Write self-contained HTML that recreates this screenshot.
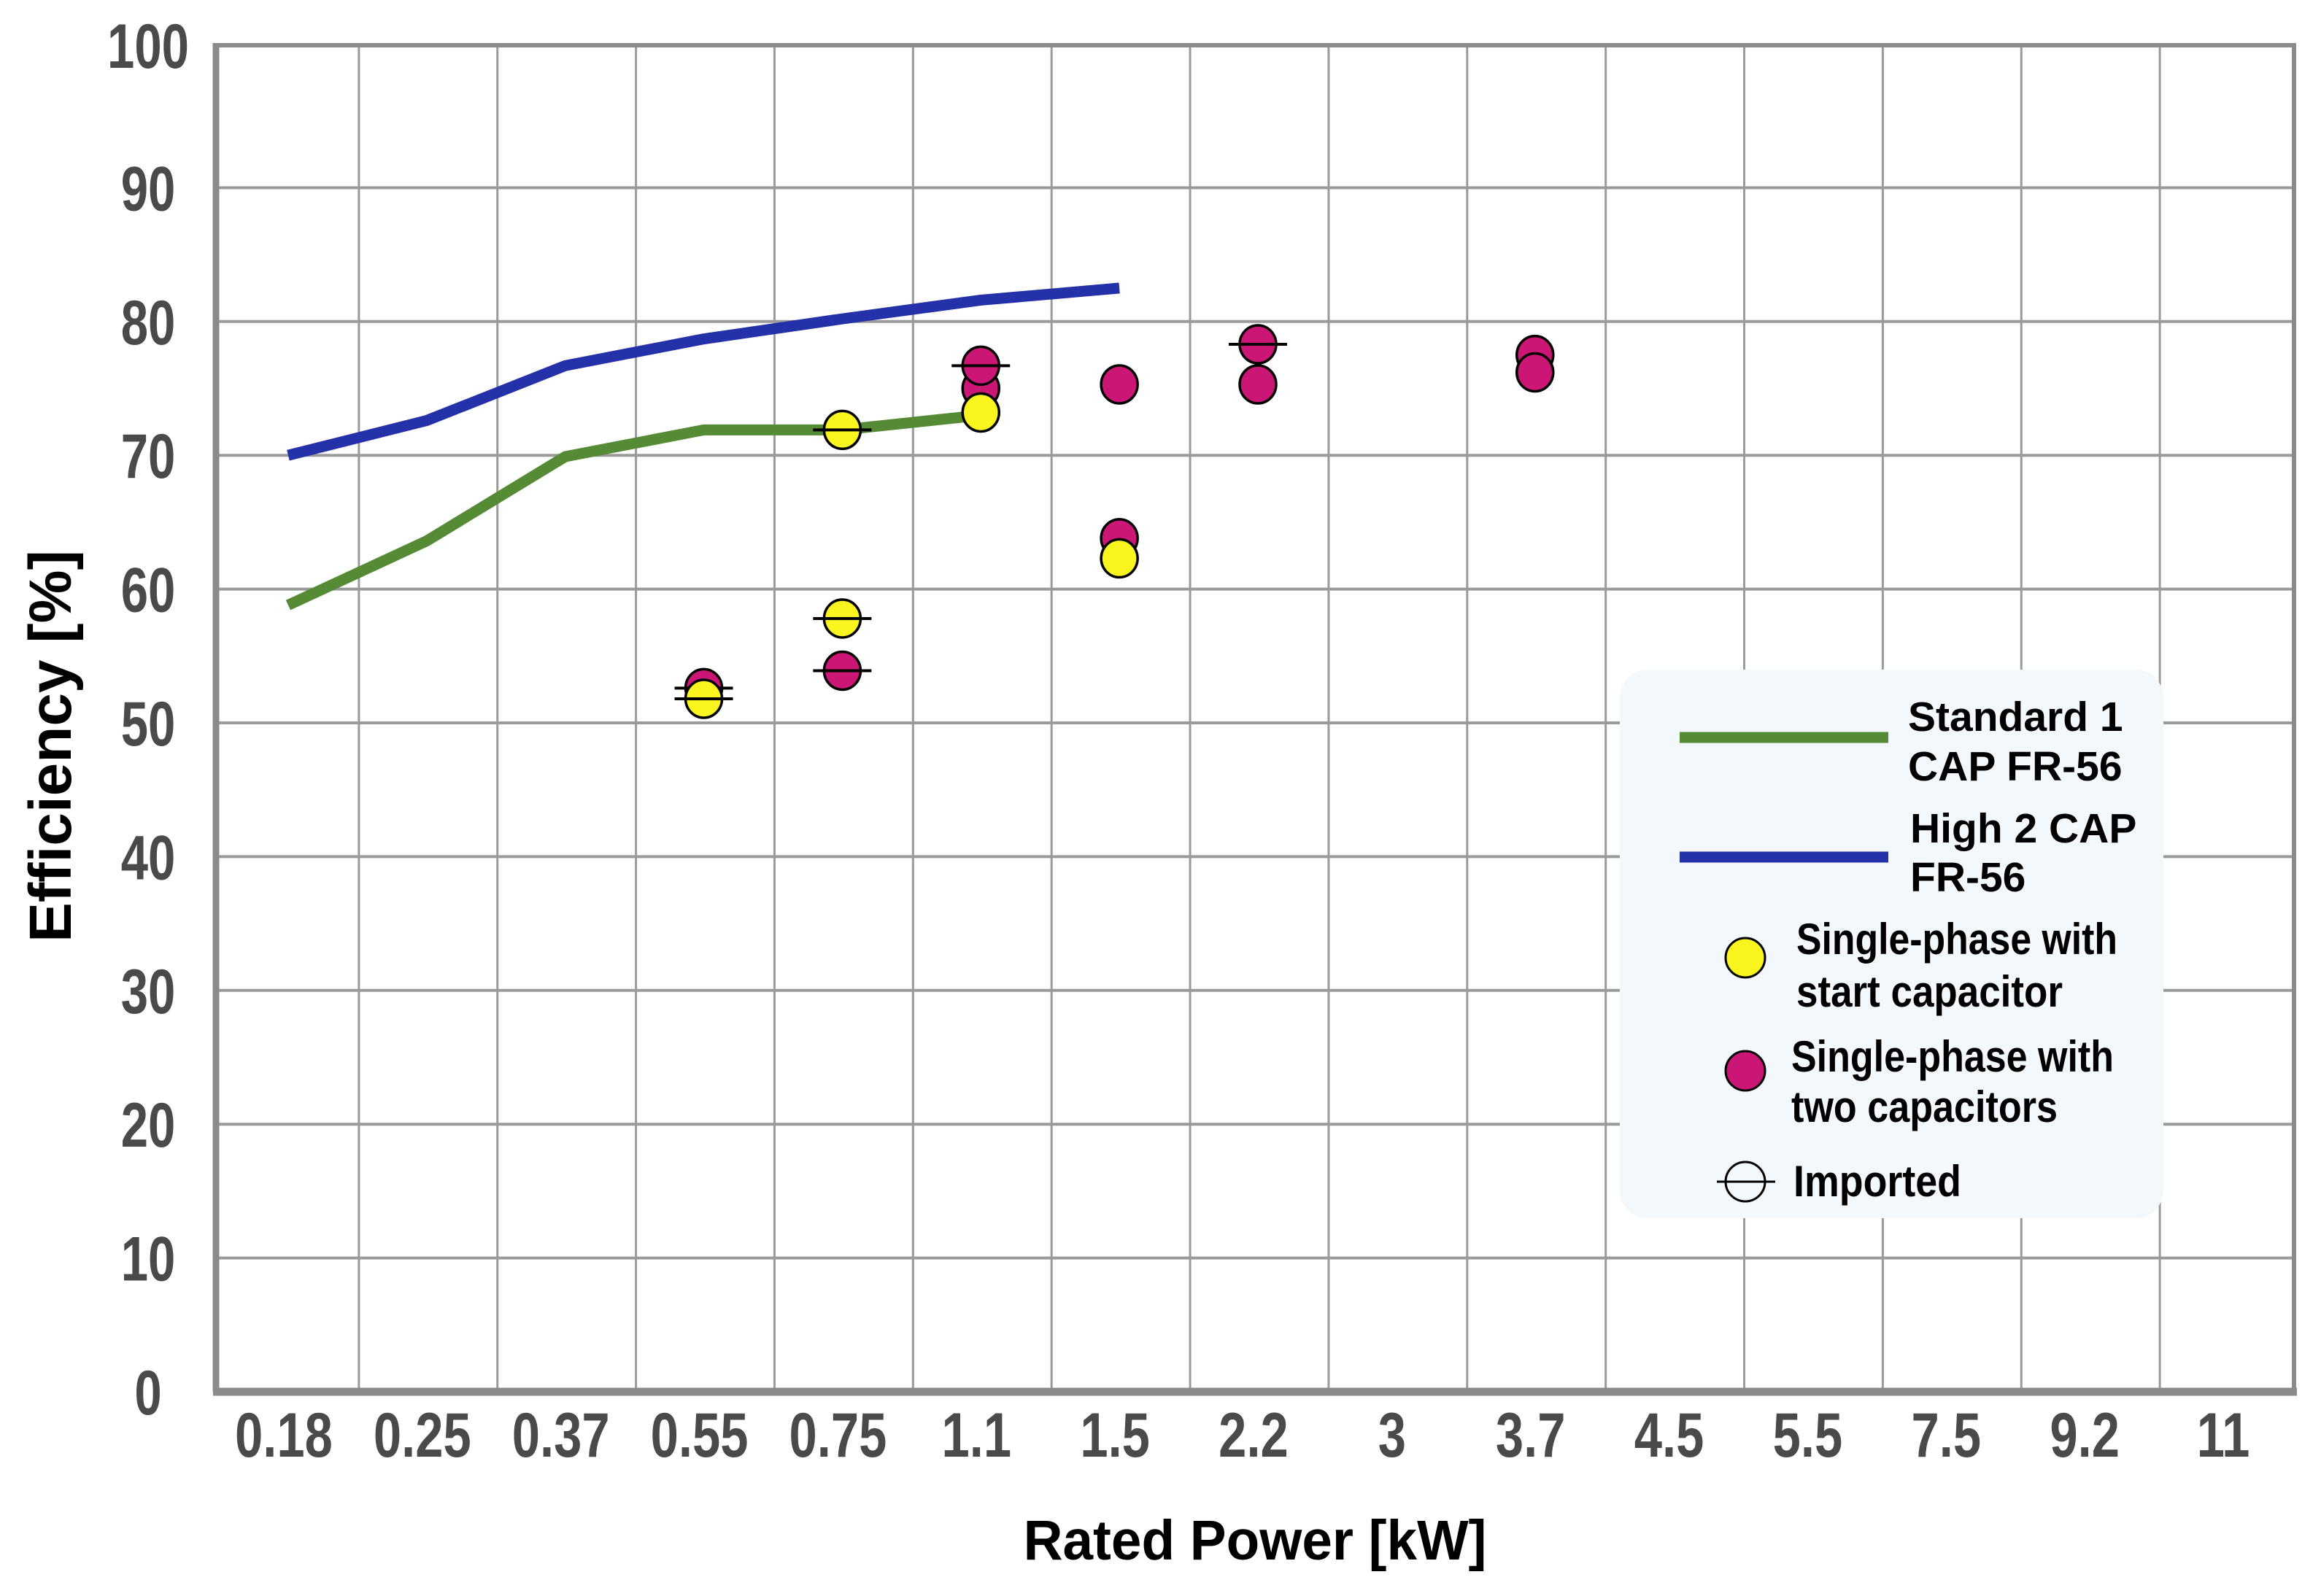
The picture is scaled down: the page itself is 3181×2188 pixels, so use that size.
<!DOCTYPE html>
<html><head><meta charset="utf-8"><style>
html,body{margin:0;padding:0;background:#fff;}
svg{display:block;}
text{font-family:"Liberation Sans",sans-serif;font-weight:bold;}
</style></head><body>
<svg id="chart" width="3181" height="2188" viewBox="0 0 3181 2188" xmlns="http://www.w3.org/2000/svg">
<rect x="0" y="0" width="3181" height="2188" fill="#fff"/>
<g id="grid"></g>
<g id="series"></g>
<g id="axes"></g>
<g id="legend">
  <rect x="2220" y="918" width="745" height="752" rx="38" fill="#f3f8fc"/>
  <g>
    <line x1="2302" y1="1011" x2="2588" y2="1011" stroke="#558b35" stroke-width="15"/>
    <text x="2615" y="1002" font-size="57" fill="#000">Standard 1</text>
    <text x="2615" y="1070" font-size="57" fill="#000">CAP FR-56</text>
  </g>
  <g>
    <line x1="2302" y1="1175" x2="2588" y2="1175" stroke="#2431a8" stroke-width="15"/>
    <text x="2618" y="1155" font-size="57" fill="#000">High 2 CAP</text>
    <text x="2618" y="1222" font-size="57" fill="#000">FR-56</text>
  </g>
  <g>
    <ellipse cx="2392" cy="1313" rx="27" ry="27" fill="#faf51e" stroke="#000" stroke-width="3"/>
    <text x="2462" y="1308" font-size="60" textLength="440" lengthAdjust="spacingAndGlyphs" fill="#000">Single-phase with</text>
    <text x="2462" y="1380" font-size="60" textLength="365" lengthAdjust="spacingAndGlyphs" fill="#000">start capacitor</text>
  </g>
  <g>
    <ellipse cx="2392" cy="1468" rx="27" ry="27" fill="#cc1676" stroke="#000" stroke-width="3"/>
    <text x="2455" y="1469" font-size="60" textLength="442" lengthAdjust="spacingAndGlyphs" fill="#000">Single-phase with</text>
    <text x="2455" y="1538" font-size="60" textLength="365" lengthAdjust="spacingAndGlyphs" fill="#000">two capacitors</text>
  </g>
  <g>
    <ellipse cx="2392" cy="1620" rx="27" ry="27" fill="none" stroke="#000" stroke-width="3"/>
    <line x1="2353" y1="1620" x2="2433" y2="1620" stroke="#000" stroke-width="3"/>
    <text x="2458" y="1640" font-size="60" textLength="230" lengthAdjust="spacingAndGlyphs" fill="#000">Imported</text>
  </g>
</g>
</svg>
<script>
const categories = ["0.18","0.25","0.37","0.55","0.75","1.1","1.5","2.2","3","3.7","4.5","5.5","7.5","9.2","11"];
const yTicks = [0,10,20,30,40,50,60,70,80,90,100];
const standardCats = ["0.18","0.25","0.37","0.55","0.75","1.1"];
const standardVals = [58.8,63.6,69.9,71.9,71.9,73.0];
const highCats = ["0.18","0.25","0.37","0.55","0.75","1.1","1.5"];
const highVals = [70.0,72.6,76.7,78.7,80.2,81.6,82.5];
const startCats = ["0.55","0.75","0.75","1.1","1.5"];
const startVals = [51.8,71.9,57.8,73.2,62.3];
const startImported = [true,true,true,false,false];
const twoCats = ["0.55","0.75","1.1","1.1","1.5","1.5","2.2","2.2","3.7","3.7"];
const twoVals = [52.6,53.9,75.0,76.7,75.3,63.8,75.3,78.3,77.5,76.2];
const twoImported = [true,true,false,true,false,false,false,true,false,false];

const NS="http://www.w3.org/2000/svg";
const L=296,R=3144,T=62,B=1908,TS=74;
const bw=(R-L)/categories.length;
function xs(c){return L+(categories.indexOf(c)+0.5)*bw+4;}
function ys(v){return v>=100?T:B-(v/100)*(B-TS);}
function mk(tag,attrs,parent){const e=document.createElementNS(NS,tag);for(const k in attrs)e.setAttribute(k,attrs[k]);parent.appendChild(e);return e;}
const grid=document.getElementById('grid'),axes=document.getElementById('axes'),series=document.getElementById('series');

yTicks.forEach(v=>{
  if(v>0&&v<100){const g=mk('line',{x1:L,x2:R,y1:ys(v),y2:ys(v),stroke:'#9a9a9a','stroke-width':4},grid);
  
  }
  const t=mk('text',{x:0,y:0,'font-size':86,fill:'#4a4a4a','text-anchor':'middle',transform:`translate(203,${ys(v)+31}) scale(0.78,1)`},axes);
  t.textContent=v;
  
  
});
categories.forEach((c,i)=>{
  if(i>0){const g=mk('line',{x1:L+i*bw+6,x2:L+i*bw+6,y1:T,y2:B,stroke:'#9a9a9a','stroke-width':3},grid);
  
  }
  const t=mk('text',{x:0,y:0,'font-size':86,fill:'#4a4a4a','text-anchor':'middle',transform:`translate(${xs(c)-6},1997) scale(0.8,1)`},axes);
  t.textContent=c;
  
  
});
const frame=mk('rect',{x:L,y:T,width:R-L,height:B-T,fill:'none',stroke:'#8a8a8a','stroke-width':6},axes);


const xa=mk('line',{x1:L-4,x2:R+4,y1:B,y2:B,stroke:'#8a8a8a','stroke-width':11},axes);


const ya=mk('line',{x1:L,x2:L,y1:T-3,y2:B,stroke:'#8a8a8a','stroke-width':9},axes);


const xt=mk('text',{x:0,y:0,'font-size':77,fill:'#000','text-anchor':'middle',transform:'translate(1720,2138) scale(0.97,1)'},axes);
xt.textContent='Rated Power [kW]';


const yt=mk('text',{x:0,y:0,'font-size':82,fill:'#000','text-anchor':'middle',transform:'translate(97,1023) rotate(-90)'},axes);
yt.textContent='Efficiency [%]';



function line(cats,vals,color,name){
  const p=cats.map((c,i)=>xs(c)+','+ys(vals[i])).join(' ');
  const e=mk('polyline',{points:p,fill:'none',stroke:color,'stroke-width':15,'stroke-linejoin':'round'},series);
  
  
}
line(standardCats,standardVals,'#558b35','standard-1cap-line');
line(highCats,highVals,'#2431a8','high-2cap-line');

function pts(cats,vals,imp,color,name){
  cats.forEach((c,i)=>{
    const x=xs(c),y=ys(vals[i]);
    const e=mk('ellipse',{cx:x,cy:y,rx:25,ry:26,fill:color,stroke:'#000','stroke-width':3.5},series);
    
    
    if(imp[i]){const l=mk('line',{x1:x-40,x2:x+40,y1:y,y2:y,stroke:'#000','stroke-width':4},series);
    
    }
  });
}
pts(twoCats,twoVals,twoImported,'#cc1676','two-capacitor-point');
pts(startCats,startVals,startImported,'#faf51e','start-capacitor-point');
</script>
</body></html>
